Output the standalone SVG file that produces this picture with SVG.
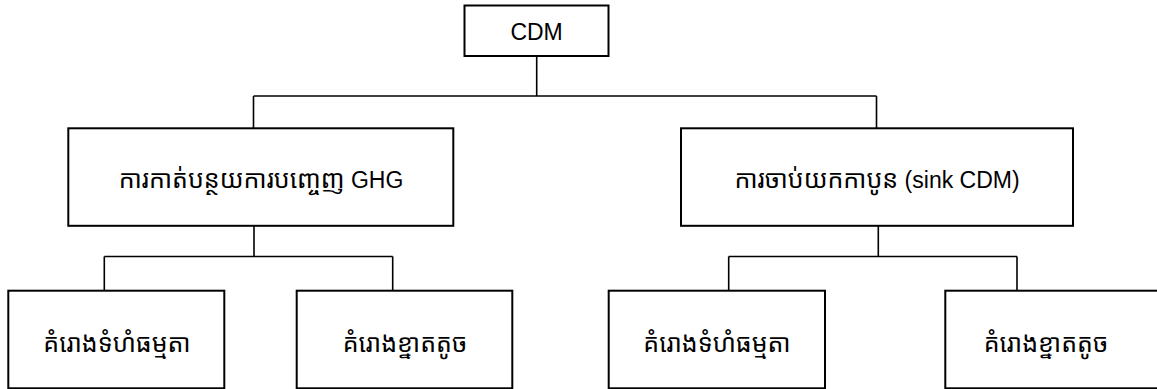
<svg xmlns="http://www.w3.org/2000/svg" width="1157" height="389" viewBox="0 0 1157 389">
<style>
.box{fill:#fff;stroke:#000;stroke-width:2}
.conn{fill:none;stroke:#000;stroke-width:1.6}
.lbl{font-family:"Liberation Sans","Noto Sans Khmer","Khmer OS",sans-serif;font-size:23px;fill:#000;text-anchor:middle}
.km{font-size:25px}
</style>
<rect width="1157" height="389" fill="#fff"/>
<g id="connectors">
<path class="conn" d="M536.7 56V96M253.5 96H876.5M253.5 96V128.3M876.5 96V128.3"/>
<path class="conn" d="M254 226V256.5M104.3 256.5H392.7M104.3 256.5V290.7M392.7 256.5V290.7"/>
<path class="conn" d="M878.3 226V256.5M728.7 256.5H1017M728.7 256.5V290.7M1017 256.5V290.7"/>
</g>
<g id="node-cdm">
<rect class="box" x="464.5" y="5.5" width="144" height="50.5"/>
<text class="lbl" x="536.6" y="39.5">CDM</text>
</g>
<g id="node-ghg">
<rect class="box" x="68.3" y="128.3" width="385" height="97.5"/>
<text class="lbl" x="261" y="188"><tspan class="km">ការកាត់បន្ថយការបញ្ចេញ</tspan> GHG</text>
</g>
<g id="node-sink">
<rect class="box" x="681" y="128.3" width="392" height="97.5"/>
<text class="lbl" x="877" y="188"><tspan class="km">ការចាប់យកកាបូន</tspan> (sink CDM)</text>
</g>
<g id="node-ghg-normal">
<rect class="box" x="8.3" y="290.7" width="216" height="97.6"/>
<text class="lbl km" x="117" y="352">គំរោងទំហំធម្មតា</text>
</g>
<g id="node-ghg-small">
<rect class="box" x="296.7" y="290.7" width="215.6" height="97.6"/>
<text class="lbl km" x="405" y="352">គំរោងខ្នាតតូច</text>
</g>
<g id="node-sink-normal">
<rect class="box" x="608.7" y="290.7" width="216.3" height="97.6"/>
<text class="lbl km" x="717" y="352">គំរោងទំហំធម្មតា</text>
</g>
<g id="node-sink-small">
<rect class="box" x="945.3" y="290.7" width="216" height="97.6"/>
<text class="lbl km" x="1046" y="352">គំរោងខ្នាតតូច</text>
</g>
</svg>
